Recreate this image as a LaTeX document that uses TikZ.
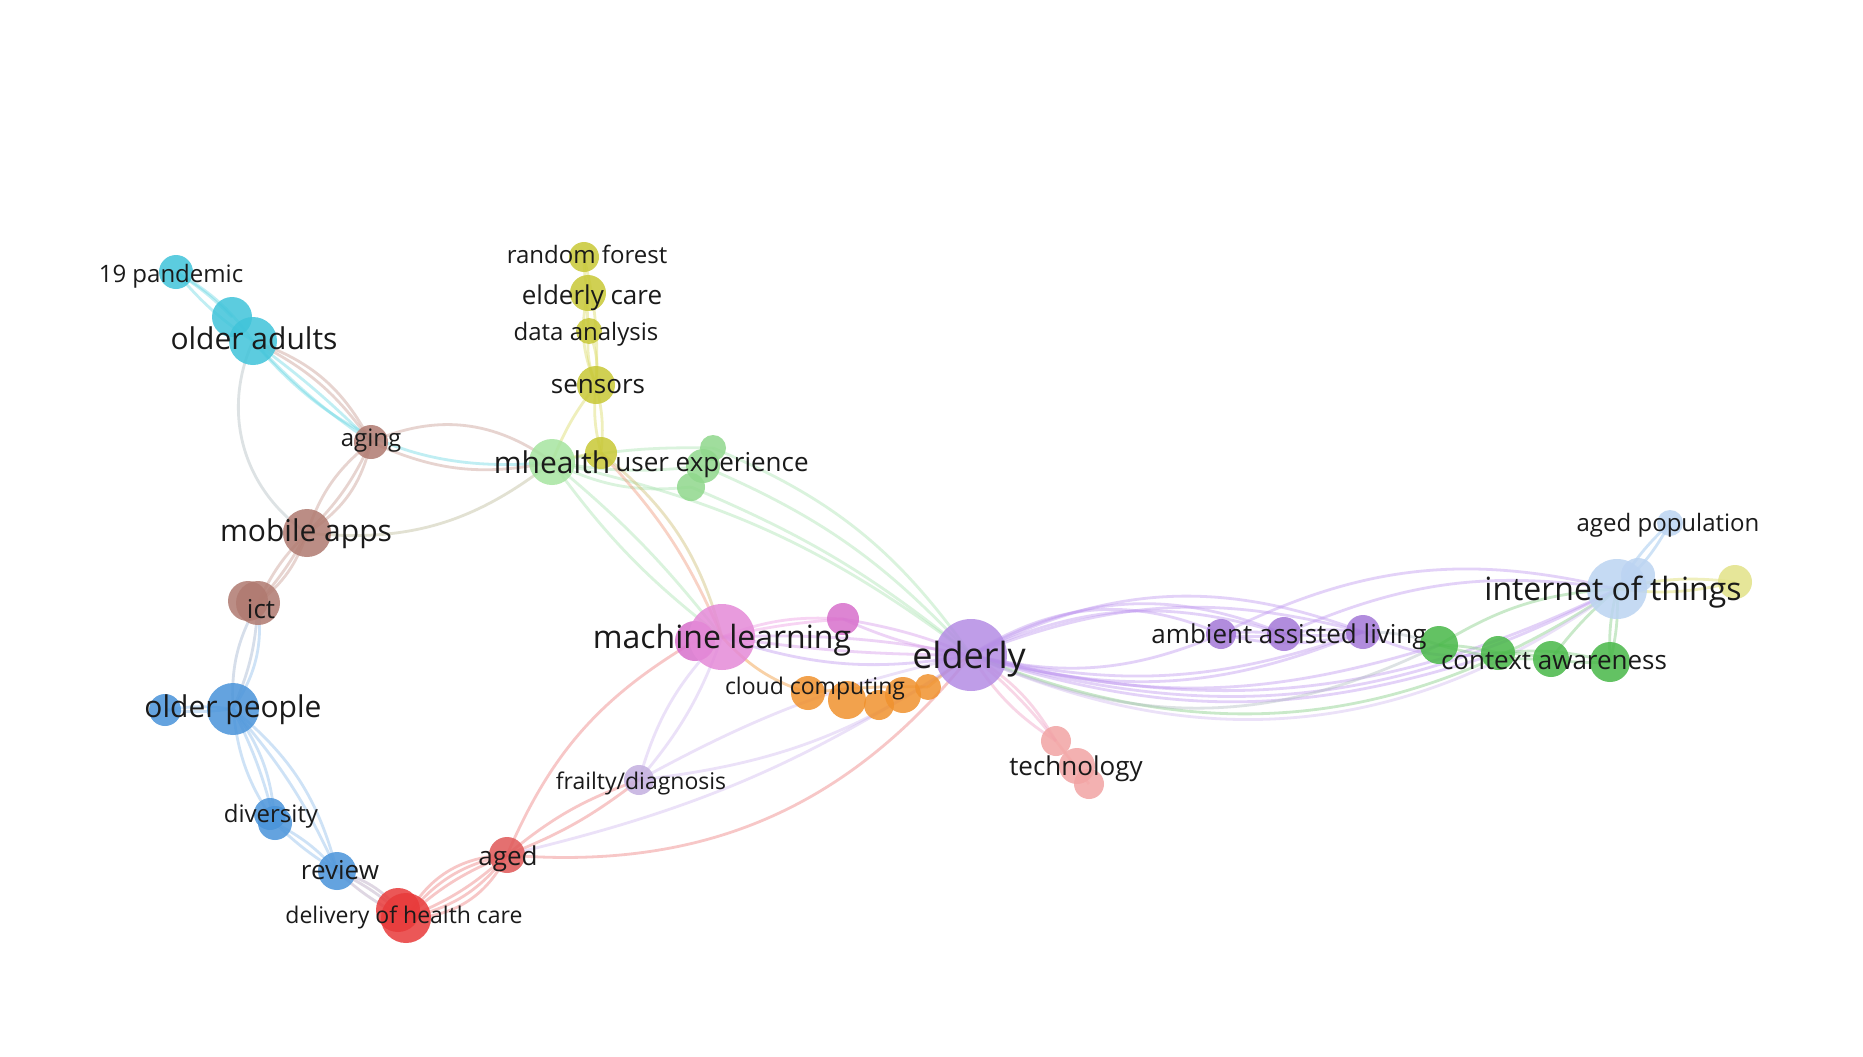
\documentclass[tikz,border=0pt]{standalone}
\usepackage{fontspec}
\setmainfont{Open Sans}
\pgfdeclarelayer{bg}
\pgfdeclarelayer{back}
\pgfsetlayers{back,bg,main}
\definecolor{cyanN}{HTML}{40C4DA}
\definecolor{cyanE}{HTML}{6AD8E4}
\definecolor{brownN}{HTML}{B07A70}
\definecolor{brownE}{HTML}{C89A90}
\definecolor{blueN}{HTML}{4A94DA}
\definecolor{blueE}{HTML}{8CBCEA}
\definecolor{redN}{HTML}{E83A3A}
\definecolor{redE}{HTML}{EE7A7A}
\definecolor{agedN}{HTML}{E05858}
\definecolor{lavN}{HTML}{C4B0E0}
\definecolor{lavE}{HTML}{D0B8F0}
\definecolor{pinkN}{HTML}{E58AD8}
\definecolor{pinkD}{HTML}{D870CC}
\definecolor{pinkE}{HTML}{EE9AE4}
\definecolor{purpN}{HTML}{B48CE4}
\definecolor{purpE}{HTML}{BE96F0}
\definecolor{aalN}{HTML}{A478D8}
\definecolor{orangeN}{HTML}{F0922E}
\definecolor{salmonN}{HTML}{F2A4A4}
\definecolor{lgreenN}{HTML}{A6E4A0}
\definecolor{lgreenE}{HTML}{A8E4B0}
\definecolor{uxN}{HTML}{90D88C}
\definecolor{yellowN}{HTML}{C8C836}
\definecolor{yellowE}{HTML}{DADA60}
\definecolor{greenN}{HTML}{48B848}
\definecolor{greenE}{HTML}{80CC80}
\definecolor{lblueN}{HTML}{BCD4F2}
\definecolor{lyellowN}{HTML}{E2E288}
\definecolor{txt}{HTML}{1A1A1A}
\definecolor{grayE}{HTML}{B0BCC0}
\tikzset{
  kw/.style={circle, inner sep=0pt, draw=none, fill opacity=0.85, fill=#1},
  e/.style={draw=#1, line width=2.8pt, draw opacity=0.42},
  lbl/.style={text=txt, inner sep=0pt, font=\fontsize{#1}{#1}\selectfont}
}
\begin{document}
\begin{tikzpicture}[x=1pt,y=-1pt]
\useasboundingbox (0,0) rectangle (1863,1057);
\begin{pgfonlayer}{back}
\fill[white] (0,0) rectangle (1863,1057);
\end{pgfonlayer}
% ---- nodes
\node[kw=cyanN, minimum size=34] (pan) at (176,272) {};
\node[kw=cyanN, minimum size=40] (oa1) at (232,317) {};
\node[kw=cyanN, minimum size=48] (oa) at (253,341) {};
\node[kw=brownN, minimum size=34] (aging) at (371,442) {};
\node[kw=brownN, minimum size=48] (mob) at (307,533) {};
\node[kw=brownN, minimum size=40] (ict2) at (248,601) {};
\node[kw=brownN, minimum size=44] (ict) at (258,603) {};
\node[kw=blueN, minimum size=52] (op) at (233,709) {};
\node[kw=blueN, minimum size=32] (op2) at (165,710) {};
\node[kw=blueN, minimum size=32] (div2) at (270,814) {};
\node[kw=blueN, minimum size=34] (div) at (275,823) {};
\node[kw=blueN, minimum size=38] (rev) at (337,871) {};
\node[kw=redN, minimum size=44] (doh2) at (398,910) {};
\node[kw=redN, minimum size=50] (doh) at (406,918) {};
\node[kw=agedN, minimum size=36] (aged) at (507,855) {};
\node[kw=lavN, minimum size=30] (frail) at (639,780) {};
\node[kw=pinkD, minimum size=40] (ml2) at (695,641) {};
\node[kw=pinkN, minimum size=66] (ml) at (722,637) {};
\node[kw=pinkD, minimum size=32] (pk) at (843,619) {};
\node[kw=purpN, minimum size=72] (eld) at (971,655) {};
\node[kw=orangeN, minimum size=34] (cc1) at (808,693) {};
\node[kw=orangeN, minimum size=38] (cc2) at (847,700) {};
\node[kw=orangeN, minimum size=30] (cc3) at (879,705) {};
\node[kw=orangeN, minimum size=36] (cc4) at (903,695) {};
\node[kw=orangeN, minimum size=26] (cc5) at (928,687) {};
\node[kw=salmonN, minimum size=30] (tec1) at (1056,741) {};
\node[kw=salmonN, minimum size=36] (tec2) at (1077,766) {};
\node[kw=salmonN, minimum size=30] (tec3) at (1089,784) {};
\node[kw=lgreenN, minimum size=46] (mh) at (552,462) {};
\node[kw=yellowN, minimum size=30] (rf) at (584,257) {};
\node[kw=yellowN, minimum size=36] (ec) at (588,293) {};
\node[kw=yellowN, minimum size=26] (da) at (589,331) {};
\node[kw=yellowN, minimum size=38] (sen) at (596,385) {};
\node[kw=yellowN, minimum size=32] (yn) at (601,453) {};
\node[kw=uxN, minimum size=26] (ux1) at (713,448) {};
\node[kw=uxN, minimum size=34] (ux2) at (703,466) {};
\node[kw=uxN, minimum size=28] (ux3) at (691,487) {};
\node[kw=aalN, minimum size=30] (aal1) at (1221,634) {};
\node[kw=aalN, minimum size=34] (aal2) at (1284,634) {};
\node[kw=aalN, minimum size=34] (aal3) at (1363,632) {};
\node[kw=greenN, minimum size=38] (ca1) at (1439,645) {};
\node[kw=greenN, minimum size=34] (ca2) at (1498,653) {};
\node[kw=greenN, minimum size=36] (ca3) at (1551,659) {};
\node[kw=greenN, minimum size=40] (ca4) at (1610,662) {};
\node[kw=lblueN, minimum size=34] (iot2) at (1638,575) {};
\node[kw=lblueN, minimum size=60] (iot) at (1617,589) {};
\node[kw=lblueN, minimum size=26] (ap) at (1670,523) {};
\node[kw=lyellowN, minimum size=34] (yn2) at (1735,582) {};
% ---- labels
\node[lbl=24] (l-pan) at (171,276) {19 pandemic};
\node[lbl=30] (l-oa) at (254,338) {older adults};
\node[lbl=24] (l-aging) at (371,441) {aging};
\node[lbl=30] (l-mob) at (306,534) {mobile apps};
\node[lbl=26] (l-ict) at (261,609) {ict};
\node[lbl=30] (l-op) at (233,710) {older people};
\node[lbl=24] (l-div) at (271,816) {diversity};
\node[lbl=26] (l-rev) at (340,870) {review};
\node[lbl=23] (l-doh) at (404,917) {delivery of health care};
\node[lbl=26] (l-aged) at (508,859) {aged};
\node[lbl=23] (l-frail) at (641,783) {frailty/diagnosis};
\node[lbl=32] (l-ml) at (722,640) {machine learning};
\node[lbl=36] (l-eld) at (969,659) {elderly};
\node[lbl=23] (l-cc) at (815,689) {cloud computing};
\node[lbl=26] (l-tec) at (1076,769) {technology};
\node[lbl=30] (l-mh) at (552,462) {mhealth};
\node[lbl=24] (l-rf) at (587,254) {random forest};
\node[lbl=26] (l-ec) at (592,298) {elderly care};
\node[lbl=24] (l-da) at (586,334) {data analysis};
\node[lbl=26] (l-sen) at (598,387) {sensors};
\node[lbl=26] (l-ux) at (712,465) {user experience};
\node[lbl=26] (l-aal) at (1289,637) {ambient assisted living};
\node[lbl=26] (l-ca) at (1554,661) {context awareness};
\node[lbl=32] (l-iot) at (1613,592) {internet of things};
\node[lbl=24] (l-ap) at (1668,525) {aged population};
% ---- edges
\begin{pgfonlayer}{bg}
% cyan
\draw[e=cyanE] (pan.center) to[bend left=6] (oa1.center);
\draw[e=cyanE] (pan.center) to[bend right=8] (oa.center);
\draw[e=cyanE] (pan.center) to[bend left=12] (oa.center);
\draw[e=cyanE] (oa.center) to[bend right=6] (aging.center);
\draw[e=cyanE] (oa.center) to[bend left=4] (aging.center);
\draw[e=brownE] (oa.center) to[bend left=14] (aging.center);
\draw[e=brownE] (oa.center) to[bend left=22] (aging.center);
\draw[e=cyanE] (oa.center) to[bend right=28] (mh.center);
\draw[e=grayE] (oa.center) to[bend right=40] (mob.center);
% brown
\draw[e=brownE] (aging.center) to[bend left=30] (mh.center);
\draw[e=brownE] (aging.center) to[bend right=18] (mh.center);
\draw[e=brownE] (aging.center) to[bend right=16] (mob.center);
\draw[e=brownE] (aging.center) to[bend left=10] (mob.center);
\draw[e=brownE] (aging.center) to[bend left=22] (mob.center);
\draw[e=brownE] (mob.center) to[bend left=6] (ict.center);
\draw[e=brownE] (mob.center) to[bend right=10] (ict.center);
\draw[e=brownE] (mob.center) to[bend left=16] (ict.center);
\draw[e=brownE!60!lgreenN] (mob.center) to[bend right=22] (mh.center);
% blue
\draw[e=blueE!70!brownE] (ict.center) to[bend right=16] (op.center);
\draw[e=blueE!70!brownE] (ict.center) to[bend left=10] (op.center);
\draw[e=blueE] (ict.center) to[bend left=20] (op.center);
\draw[e=blueE] (op.center) to[bend left=6] (op2.center);
\draw[e=blueE] (op.center) to[bend right=8] (op2.center);
\draw[e=blueE] (op.center) to[bend right=14] (div.center);
\draw[e=blueE] (op.center) to[bend left=6] (div.center);
\draw[e=blueE] (op.center) to[bend left=16] (div.center);
\draw[e=blueE] (op.center) to[bend left=18] (rev.center);
\draw[e=blueE] (op.center) to[bend left=8] (rev.center);
\draw[e=blueE] (div.center) to[bend right=6] (rev.center);
\draw[e=blueE] (div.center) to[bend left=10] (rev.center);
\draw[e=blueE!60!redE] (rev.center) to[bend right=8] (doh.center);
\draw[e=blueE!60!redE] (rev.center) to[bend left=8] (doh.center);
\draw[e=blueE!60!redE] (rev.center) to[bend left=18] (doh.center);
% red
\draw[e=redE] (doh.center) to[bend left=10] (aged.center);
\draw[e=redE] (doh.center) to[bend left=20] (aged.center);
\draw[e=redE] (doh.center) to[bend left=30] (aged.center);
\draw[e=redE] (doh.center) to[bend right=10] (aged.center);
\draw[e=redE] (doh.center) to[bend right=20] (aged.center);
\draw[e=redE] (doh.center) to[bend right=32] (aged.center);
\draw[e=redE] (aged.center) to[bend left=18] (ml2.center);
\draw[e=redE] (aged.center) to[bend left=10] (frail.center);
\draw[e=redE] (aged.center) to[bend right=8] (frail.center);
\draw[e=redE] (aged.center) to[bend right=28] (eld.center);
% lavender / pink
\draw[e=lavE] (frail.center) to[bend left=14] (ml.center);
\draw[e=lavE] (frail.center) to[bend right=10] (ml.center);
\draw[e=lavE] (frail.center) to[bend right=14] (eld.center);
\draw[e=lavE] (frail.center) to[bend left=8] (eld.center);
\draw[e=lavE] (aged.center) to[bend right=10] (eld.center);
\draw[e=pinkE] (ml.center) to[bend left=12] (pk.center);
\draw[e=pinkE] (ml.center) to[bend left=4] (pk.center);
\draw[e=pinkE!50!purpE] (ml.center) to[bend left=6] (eld.center);
\draw[e=pinkE!50!purpE] (ml.center) to[bend right=4] (eld.center);
\draw[e=purpE] (ml.center) to[bend right=14] (eld.center);
\draw[e=pinkE!50!purpE] (pk.center) to[bend left=6] (eld.center);
\draw[e=pinkE!50!purpE] (pk.center) to[bend right=8] (eld.center);
\draw[e=orangeN] (ml.center) to[bend right=14] (cc1.center);
\draw[e=orangeN] (cc1.center) to[bend left=4] (cc5.center);
\draw[e=orangeN] (cc5.center) to[bend left=4] (eld.center);
% green / yellow
\draw[e=lgreenE] (mh.center) to[bend right=8] (ml.center);
\draw[e=lgreenE] (mh.center) to[bend left=6] (ml.center);
\draw[e=lgreenE] (mh.center) to[bend left=12] (eld.center);
\draw[e=lgreenE] (ux3.center) to[bend left=8] (eld.center);
\draw[e=lgreenE] (ux2.center) to[bend left=12] (eld.center);
\draw[e=lgreenE] (ux1.center) to[bend left=16] (eld.center);
\draw[e=lgreenE] (mh.center) to[bend right=8] (ux2.center);
\draw[e=lgreenE] (mh.center) to[bend right=16] (ux3.center);
\draw[e=lgreenE] (mh.center) to[bend left=6] (ux1.center);
\draw[e=yellowE] (mh.center) to[bend left=8] (sen.center);
\draw[e=yellowE] (mh.center) to[bend left=4] (yn.center);
\draw[e=orangeN!60!pinkE] (yn.center) to[bend left=10] (ml.center);
\draw[e=orangeN!50!lgreenE] (yn.center) to[bend left=18] (ml.center);
\draw[e=yellowE] (yn.center) to[bend left=10] (sen.center);
\draw[e=yellowE] (yn.center) to[bend right=10] (sen.center);
\draw[e=yellowE] (sen.center) to[bend left=14] (da.center);
\draw[e=yellowE] (sen.center) to[bend right=14] (da.center);
\draw[e=yellowE] (sen.center) to[bend left=18] (ec.center);
\draw[e=yellowE] (da.center) to[bend left=6] (ec.center);
\draw[e=yellowE] (ec.center) to[bend left=6] (rf.center);
\draw[e=yellowE] (sen.center) to[bend right=8] (rf.center);
% right side purple
\draw[e=purpE] (eld.center) to[bend left=28] (aal1.center);
\draw[e=purpE] (eld.center) to[bend left=26] (aal2.center);
\draw[e=purpE] (eld.center) to[bend left=21] (aal2.center);
\draw[e=purpE] (eld.center) to[bend left=18] (aal3.center);
\draw[e=purpE] (eld.center) to[bend left=24] (aal3.center);
\draw[e=purpE] (eld.center) to[bend right=18] (aal1.center);
\draw[e=purpE] (eld.center) to[bend right=16] (aal3.center);
\draw[e=purpE] (eld.center) to[bend right=19] (aal3.center);
\draw[e=purpE] (eld.center) to[bend right=16] (ca1.center);
\draw[e=purpE] (eld.center) to[bend right=18] (ca2.center);
\draw[e=purpE] (eld.center) to[bend right=20] (iot.center);
\draw[e=purpE] (eld.center) to[bend right=22] (iot.center);
\draw[e=greenE] (eld.center) to[bend right=28] (iot.center);
\draw[e=grayE] (eld.center) to[bend right=25] (ca1.center);
\draw[e=lavE] (eld.center) to[bend right=30] (iot.center);
\draw[e=purpE] (aal1.center) to[bend left=20] (iot.center);
\draw[e=purpE] (aal2.center) to[bend left=16] (iot.center);
\draw[e=purpE] (aal1.center) to[bend left=6] (aal2.center);
\draw[e=purpE] (aal1.center) to[bend right=8] (aal2.center);
\draw[e=purpE] (aal2.center) to[bend right=6] (aal3.center);
\draw[e=purpE] (aal2.center) to[bend left=8] (aal3.center);
\draw[e=purpE] (aal1.center) to[bend right=14] (aal3.center);
\draw[e=grayE] (aal3.center) to[bend left=10] (ca1.center);
\draw[e=purpE] (aal3.center) to[bend right=16] (ca2.center);
\draw[e=greenE] (ca1.center) to[bend left=6] (ca2.center);
\draw[e=greenE] (ca1.center) to[bend right=8] (ca3.center);
\draw[e=greenE] (ca2.center) to[bend left=6] (ca3.center);
\draw[e=greenE] (ca3.center) to[bend right=6] (ca4.center);
\draw[e=greenE] (ca2.center) to[bend left=10] (ca4.center);
\draw[e=greenE] (ca1.center) to[bend left=14] (iot.center);
\draw[e=greenE] (ca4.center) to[bend left=8] (iot.center);
\draw[e=greenE] (ca4.center) to[bend right=8] (iot.center);
\draw[e=greenE] (ca3.center) to[bend left=6] (iot.center);
\draw[e=blueE] (iot.center) to[bend left=8] (ap.center);
\draw[e=blueE] (iot.center) to[bend right=10] (ap.center);
\draw[e=yellowE] (iot.center) to[bend left=10] (yn2.center);
\draw[e=yellowE] (iot.center) to[bend right=10] (yn2.center);
% technology
\draw[e=pinkE!50!salmonN] (eld.center) to[bend left=6] (tec1.center);
\draw[e=pinkE!50!salmonN] (eld.center) to[bend right=12] (tec1.center);
\draw[e=pinkE!50!salmonN] (eld.center) to[bend left=14] (tec1.center);
\draw[e=salmonN] (tec1.center) to (tec3.center);
\end{pgfonlayer}
\end{tikzpicture}
\end{document}
